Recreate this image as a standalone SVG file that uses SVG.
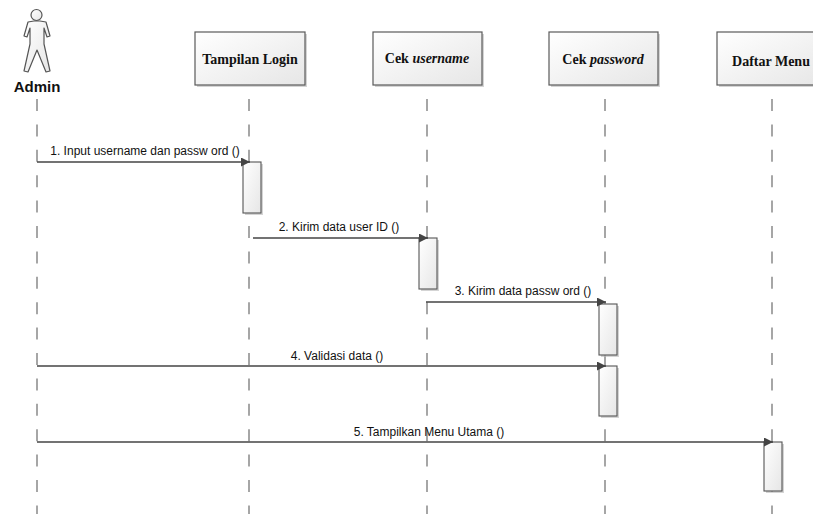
<svg xmlns="http://www.w3.org/2000/svg" width="813" height="514" viewBox="0 0 813 514">
<style>
.hdr{font-family:"Liberation Serif","Times New Roman",serif;font-weight:bold;font-size:14px;fill:#111;text-anchor:middle}
.it{font-style:italic}
.lbl{font-family:"Liberation Sans",Arial,sans-serif;font-size:12px;fill:#111;text-anchor:middle}
.box{fill:url(#g);stroke:#5a5a5a;stroke-width:1.2}
.shadow{fill:#b8b8b8;opacity:0.6}
.act{fill:url(#g);stroke:#555;stroke-width:1.1}
.life{stroke:#777;stroke-width:1.3;stroke-dasharray:12 13.4;fill:none}
.msg{stroke:#444;stroke-width:1.3;fill:none;marker-end:url(#arr)}
</style>
<defs>
<linearGradient id="g" x1="0" y1="0" x2="1" y2="1">
<stop offset="0" stop-color="#ffffff"/>
<stop offset="1" stop-color="#e6e6e6"/>
</linearGradient>
<marker id="arr" markerWidth="10" markerHeight="9" refX="9" refY="4.5" orient="auto" markerUnits="userSpaceOnUse">
<path d="M0,0 L9,4.5 L0,9 Z" fill="#444"/>
</marker>
</defs>
<rect width="813" height="514" fill="#fff"/>

<g id="lifelines">
<line class="life" x1="37" y1="99" x2="37" y2="514"/>
<line class="life" x1="249" y1="99" x2="249" y2="514"/>
<line class="life" x1="427" y1="99" x2="427" y2="514"/>
<line class="life" x1="605" y1="99" x2="605" y2="514"/>
<line class="life" x1="772" y1="99" x2="772" y2="514"/>
</g>

<g id="admin">
<circle cx="36.5" cy="15" r="5.5" fill="url(#g)" stroke="#555" stroke-width="1.2"/>
<path d="M34,21 L40,21 L46,22 L50,36 L47,37 L44,28 L44,44 L50,71 L46,72 L37,50 L28,72 L24,71 L30,44 L30,28 L27,37 L24,36 L28,22 Z" fill="url(#g)" stroke="#555" stroke-width="1.2" stroke-linejoin="round"/>
<text x="37" y="92" font-family="'Liberation Sans',Arial,sans-serif" font-weight="bold" font-size="15" text-anchor="middle" fill="#111">Admin</text>
</g>

<g id="tampilan-login">
<rect class="shadow" x="197" y="34" width="110" height="53"/>
<rect class="box" x="195" y="32" width="110" height="53"/>
<text class="hdr" x="250" y="64">Tampilan Login</text>
</g>

<g id="cek-username">
<rect class="shadow" x="375" y="34" width="109" height="53"/>
<rect class="box" x="373" y="32" width="109" height="53"/>
<text class="hdr" x="427" y="63">Cek <tspan class="it">username</tspan></text>
</g>

<g id="cek-password">
<rect class="shadow" x="551" y="34" width="109" height="53"/>
<rect class="box" x="549" y="32" width="109" height="53"/>
<text class="hdr" x="603" y="64">Cek <tspan class="it">password</tspan></text>
</g>

<g id="daftar-menu">
<rect class="shadow" x="719" y="34" width="110" height="53"/>
<rect class="box" x="717" y="32" width="110" height="53"/>
<text class="hdr" x="771" y="66">Daftar Menu</text>
</g>

<g id="activations">
<rect class="shadow" x="245" y="164" width="18" height="51"/>
<rect class="act" x="243" y="162" width="18" height="51"/>
<rect class="shadow" x="421" y="240" width="18" height="51"/>
<rect class="act" x="419" y="238" width="18" height="51"/>
<rect class="shadow" x="601" y="306" width="18" height="51"/>
<rect class="act" x="599" y="304" width="18" height="51"/>
<rect class="shadow" x="601" y="368" width="18" height="50"/>
<rect class="act" x="599" y="366" width="18" height="50"/>
<rect class="shadow" x="766" y="444" width="18" height="49"/>
<rect class="act" x="764" y="442" width="18" height="49"/>
</g>

<g id="connectors">
<line class="msg" x1="37" y1="162" x2="250" y2="162"/>
<text class="lbl" x="145" y="155">1. Input username dan passw ord ()</text>
<line class="msg" x1="253" y1="238" x2="428" y2="238"/>
<text class="lbl" x="339" y="231">2. Kirim data user ID ()</text>
<line class="msg" x1="426" y1="302" x2="606" y2="302"/>
<text class="lbl" x="523" y="295">3. Kirim data passw ord ()</text>
<line class="msg" x1="37" y1="366" x2="606" y2="366"/>
<text class="lbl" x="337" y="360">4. Validasi data ()</text>
<line class="msg" x1="37" y1="442" x2="773" y2="442"/>
<text class="lbl" x="429" y="436">5. Tampilkan Menu Utama ()</text>
</g>
</svg>
